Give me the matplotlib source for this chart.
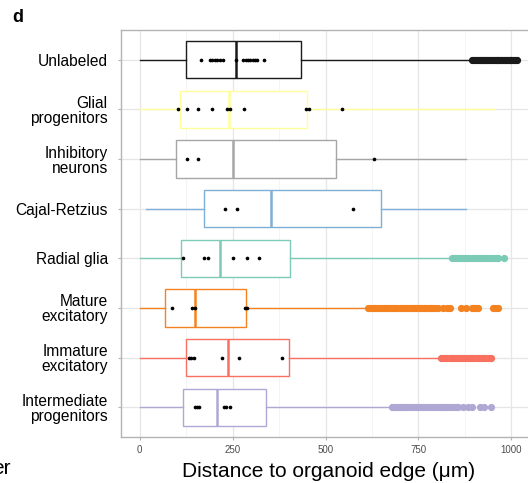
import numpy as np
import matplotlib
matplotlib.use("Agg")
import matplotlib.pyplot as plt

plt.rcParams['font.family'] = ['Liberation Sans', 'DejaVu Sans']

# 从上到下的类别
cats = ["Unlabeled", "Glial\nprogenitors", "Inhibitory\nneurons", "Cajal-Retzius",
        "Radial glia", "Mature\nexcitatory", "Immature\nexcitatory", "Intermediate\nprogenitors"]
colors = ["#1a1a1a", "#FFFF99", "#A6A6A6", "#7FAED6",
          "#7CCBB6", "#F58220", "#F8705F", "#B0A8D4"]

q1 = [126, 110, 98, 172, 111, 67, 126, 116]
med = [260, 240, 251, 353, 217, 148, 238, 208]
q3 = [435, 450, 529, 648, 404, 287, 402, 341]
whislo = [2, 0, 0, 17, 0, 0, 0, 0]
whishi = [893, 953, 879, 879, 838, 614, 808, 676]

# 离群点
fliers = [
    [895, 900, 905, 910, 915, 920, 925, 930, 935, 940, 945, 950, 955, 960, 965, 970,
     975, 980, 985, 990, 995, 1000, 1005, 1010, 1015],
    [],
    [],
    [],
    [839, 845, 851, 857, 863, 869, 875, 881, 887, 893, 899, 905, 911, 917, 923,
     929, 935, 941, 947, 953, 958, 963, 979],
    [615, 621, 627, 633, 639, 645, 651, 657, 663, 669, 675, 681, 687, 693, 699, 705,
     711, 717, 723, 729, 735, 741, 747, 753, 759, 765, 771, 777, 783, 789, 795, 803,
     817, 827, 836, 864, 879, 893, 899, 905, 911, 951, 957, 964],
    [810, 816, 822, 828, 834, 840, 846, 852, 858, 864, 870, 876, 882, 888, 894, 900,
     906, 912, 918, 924, 930, 936, 942, 946],
    [678, 684, 690, 696, 702, 708, 714, 720, 726, 732, 738, 744, 750, 756, 762, 768,
     774, 780, 786, 792, 798, 804, 810, 816, 822, 828, 834, 840, 846, 852, 857,
     869, 882, 893, 915, 926, 946],
]

# 黑点（样本）
dots = [
    [164, 190, 196, 203, 209, 217, 225, 260, 279, 285, 291, 298, 304, 311, 317, 335],
    [104, 128, 158, 195, 236, 244, 282, 447, 455, 544],
    [128, 156, 630],
    [231, 262, 575],
    [118, 174, 185, 250, 288, 322],
    [87, 141, 148, 284, 288],
    [132, 139, 147, 221, 266, 383],
    [148, 154, 160, 226, 233, 242],
]

fig = plt.figure(figsize=(5.28, 4.83), dpi=100)
ax = fig.add_axes([121/528, 46/483, (536-121)/528, 407/483])

pos = np.arange(1, len(cats) + 1)
for i in range(len(cats)):
    st = [dict(med=med[i], q1=q1[i], q3=q3[i], whislo=whislo[i], whishi=whishi[i],
               fliers=fliers[i])]
    c = colors[i]
    ax.bxp(st, positions=[pos[i]], widths=0.75, vert=False, showcaps=False,
           patch_artist=True,
           boxprops=dict(facecolor='white', edgecolor=c, linewidth=1.0),
           whiskerprops=dict(color=c, linewidth=1.0),
           medianprops=dict(color=c, linewidth=1.8),
           flierprops=dict(marker='o', markerfacecolor=c, markeredgecolor=c,
                           markersize=4.2, linestyle='none'),
           zorder=3)
    ax.scatter(dots[i], [pos[i]] * len(dots[i]), s=7, color='black', zorder=5,
               linewidths=0)

ax.set_xlim(-50, 1066)
ax.set_ylim(len(cats) + 0.6, 0.4)
ax.set_yticks(pos)
ax.set_yticklabels(cats, fontsize=11.2, linespacing=1.0)
ax.set_xticks([0, 250, 500, 750, 1000])
ax.set_xticks([125, 375, 625, 875], minor=True)
ax.tick_params(axis='x', labelsize=7, colors='#4d4d4d', length=2.5, color='#b3b3b3',
               pad=3)
ax.tick_params(axis='x', which='minor', length=0)
ax.tick_params(axis='y', colors='#b3b3b3', labelcolor='black', length=2.5, pad=7)
ax.grid(True, which='major', color='#e6e6e6', linewidth=0.9, zorder=0)
ax.grid(True, which='minor', axis='x', color='#f2f2f2', linewidth=0.6, zorder=0)
ax.set_axisbelow(True)
for s in ax.spines.values():
    s.set_color('#b3b3b3')
    s.set_linewidth(1.0)

ax.set_xlabel("Distance to organoid edge (μm)", fontsize=15, labelpad=5)

fig.text(12/528, 1 - 17/483, "d", fontsize=13, fontweight='bold', va='center')
fig.text(11/528, 1 - 468/483, "er", fontsize=15, ha='right', va='center')

fig.savefig("out.png", dpi=100)
